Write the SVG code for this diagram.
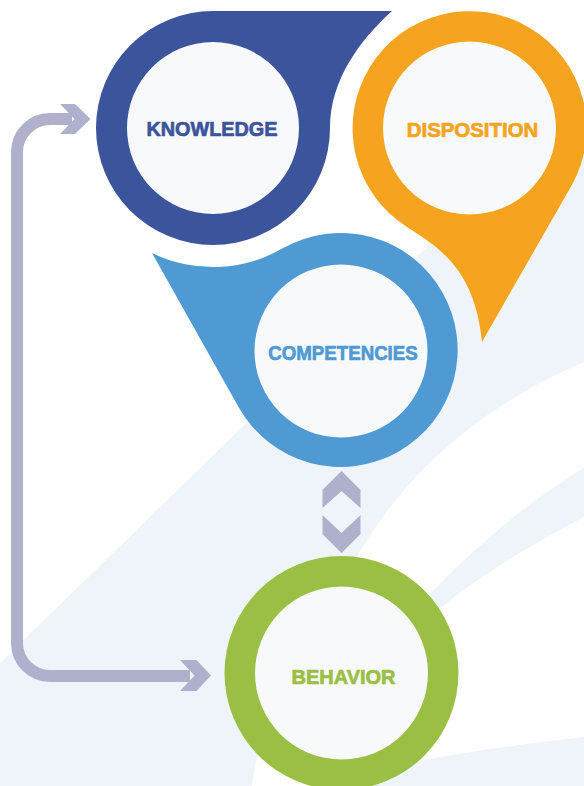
<svg xmlns="http://www.w3.org/2000/svg" width="584" height="786" viewBox="0 0 584 786">
<style>
.inner{fill:#f7f9fb}
.lbl{font-family:"Liberation Sans",Arial,sans-serif;font-weight:bold;font-size:20px;text-anchor:middle;stroke-width:0.7;stroke-linejoin:round}
.pale{fill:#eef4f9}
.wht{fill:#ffffff}
.conn{fill:none;stroke:#afb0cb;stroke-width:12}
.head{fill:#afb0cb}
</style>
<g id="background">
<rect x="0" y="0" width="584" height="786" class="wht"/>
<path class="pale" d="M0,663 L584,94 L584,786 L0,786 Z"/>
<path class="wht" d="M350,580 L355,560 C390,500 450,420 584,362 L584,468 C530,500 470,550 420,605 Z"/>
<path class="wht" d="M252,786 L259,740 L420,612 L442,607 C480,575 540,540 584,517 L584,737 Q470,750 410,763 L320,786 Z"/>
</g>
<g id="connectors">
<path class="conn" d="M72,119 L50,119 A33,33 0 0 0 17,152 L17,643 A33,33 0 0 0 50,676 L190,676"/>
<polygon class="head" points="60,104 75,104 90.5,119 75,134 60,134 74.5,119"/>
<polygon class="head" points="180,660 196.5,660 211,675.5 196.5,691 180,691 194.5,675.5"/>
<polygon class="head" points="341.5,471 360.5,490 360.5,508 341.5,491 322.5,508 322.5,490"/>
<polygon class="head" points="322.5,515 341.5,533 360.5,515 360.5,534 341.5,553 322.5,534"/>
</g>
<g id="knowledge">
<path fill="#3b549c" d="M213,11 L392,11 C360,40 330,80 330,128 A117,117 0 1 1 213,11 Z"/>
<circle class="inner" cx="213" cy="128" r="86"/>
<text class="lbl" x="212" y="136" fill="#3b549c" stroke="#3b549c" textLength="131" lengthAdjust="spacingAndGlyphs">KNOWLEDGE</text>
</g>
<g id="disposition">
<path fill="#f6a41f" d="M482,342 L571.3,186 A117,117 0 1 0 407,227 C440,248 475,270 482,342 Z"/>
<circle class="inner" cx="469.5" cy="128" r="86.5"/>
<text class="lbl" x="472.5" y="136.5" fill="#f6a41f" stroke="#f6a41f" textLength="131.5" lengthAdjust="spacingAndGlyphs">DISPOSITION</text>
</g>
<g id="competencies">
<path fill="#4f9ad3" d="M152,253 A139,139 0 0 0 282.2,248.6 A117,117 0 1 1 239.1,408.1 Z"/>
<circle class="inner" cx="341" cy="351" r="86.5"/>
<text class="lbl" x="343" y="360" fill="#4f9ad3" stroke="#4f9ad3" textLength="149.5" lengthAdjust="spacingAndGlyphs">COMPETENCIES</text>
</g>
<g id="behavior">
<circle cx="341.5" cy="673" r="117" fill="#9abf44"/>
<circle class="inner" cx="341.5" cy="673" r="86.5"/>
<text class="lbl" x="343.5" y="684" fill="#9abf44" stroke="#9abf44" textLength="104" lengthAdjust="spacingAndGlyphs">BEHAVIOR</text>
</g>
</svg>
